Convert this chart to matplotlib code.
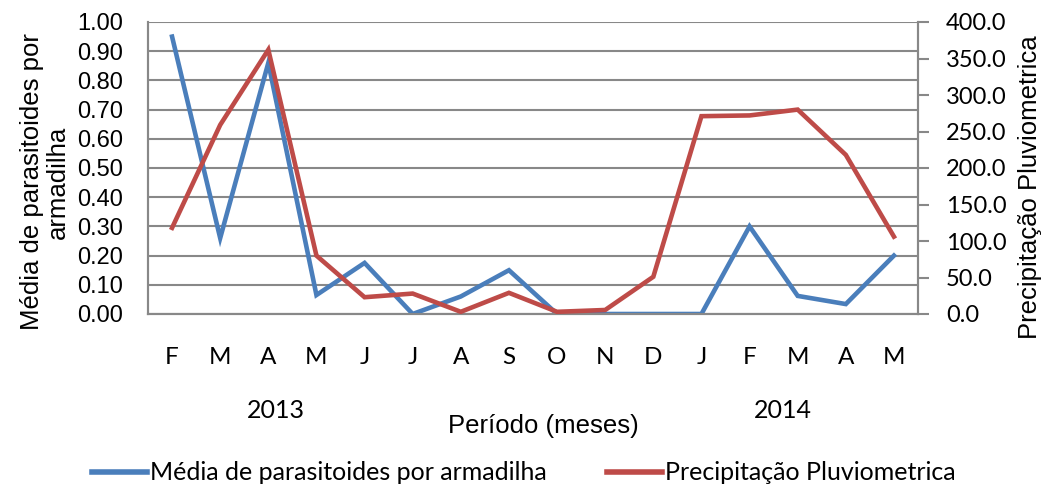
import numpy as np
import matplotlib
matplotlib.use("Agg")
import matplotlib.pyplot as plt
import matplotlib.ticker as mticker
import matplotlib.transforms as mtransforms
from matplotlib.lines import Line2D

# dados mensais (fev/2013 a mai/2014)
meses = ["F", "M", "A", "M", "J", "J", "A", "S", "O", "N", "D", "J", "F", "M", "A", "M"]
anos = ["2013", "2014"]
parasitoides = [0.95, 0.26, 0.86, 0.065, 0.175, 0.0, 0.06, 0.15, 0.0, 0.0, 0.0, 0.0,
                0.30, 0.062, 0.034, 0.20]
precipitacao = [118.0, 259.0, 362.0, 80.0, 23.0, 28.0, 3.0, 29.0, 3.0, 5.5, 51.0, 271.0,
                272.0, 280.0, 218.0, 106.0]

azul = "#4A7EBB"
vermelho = "#BE4B48"
cinza = "#888888"
fonte_cal = ["Lato", "DejaVu Sans"]

plt.rcParams["font.family"] = ["Liberation Sans", "DejaVu Sans"]

fig = plt.figure(figsize=(10.42, 4.88), dpi=100)
ax = fig.add_axes([148 / 1042, 1 - 314 / 488, 770 / 1042, 292 / 488])
ax2 = ax.twinx()

x = np.arange(len(meses))
ax.plot(x, parasitoides, color=azul, linewidth=3.3, solid_joinstyle="miter", zorder=3)
ax2.plot(x, precipitacao, color=vermelho, linewidth=3.3, solid_joinstyle="miter", zorder=3)

# eixo esquerdo
ax.set_xlim(-0.5, len(meses) - 0.5)
ax.set_ylim(0, 1.0)
ax.yaxis.set_major_locator(mticker.MultipleLocator(0.1))
ax.yaxis.set_major_formatter(mticker.FormatStrFormatter("%.2f"))
ax.grid(axis="y", color=cinza, linewidth=1.5)
ax.set_axisbelow(True)
ax.tick_params(axis="y", length=0, pad=18, labelsize=17)
ax.set_xticks(x)
ax.set_xticklabels(meses)
ax.tick_params(axis="x", length=0, pad=24, labelsize=17.5)
for lab in ax.get_xticklabels():
    lab.set_fontfamily(fonte_cal)

# eixo direito
ax2.set_ylim(0, 400)
ax2.yaxis.set_major_locator(mticker.MultipleLocator(50))
ax2.yaxis.set_major_formatter(mticker.FormatStrFormatter("%.1f"))
ax2.tick_params(axis="y", length=8, width=1.5, color=cinza, pad=12, labelsize=17)
for lab in ax2.get_yticklabels():
    lab.set_fontfamily(fonte_cal)

for a in (ax, ax2):
    a.spines["top"].set_visible(False)
    for lado in ("left", "right", "bottom"):
        a.spines[lado].set_color(cinza)
        a.spines[lado].set_linewidth(1.5)

# títulos dos eixos
fig.text(45 / 1042, 1 - 182 / 488, "Média de parasitoides por\narmadilha", rotation=90,
         ha="center", va="center", multialignment="center", fontsize=18.5, linespacing=1.1)
fig.text(1030 / 1042, 1 - 187 / 488, "Precipitação Pluviometrica", rotation=90,
         ha="center", va="center", fontsize=18.5)

# anos e título do eixo x
trans = mtransforms.blended_transform_factory(ax.transData, fig.transFigure)
ax.text(2.15, 1 - 410 / 488, anos[0], transform=trans, ha="center", va="center",
        fontsize=18, family=fonte_cal)
ax.text(12.7, 1 - 410 / 488, anos[1], transform=trans, ha="center", va="center",
        fontsize=18, family=fonte_cal)
fig.text(543 / 1042, 1 - 426 / 488, "Período (meses)", ha="center", va="center", fontsize=18.5)

# legenda
handles = [Line2D([0], [0], color=azul, linewidth=4.0),
           Line2D([0], [0], color=vermelho, linewidth=4.0)]
fig.legend(handles, ["Média de parasitoides por armadilha", "Precipitação Pluviometrica"],
           loc="center", bbox_to_anchor=(524 / 1042, 1 - 473 / 488), ncol=2, frameon=False,
           handlelength=2.2, handletextpad=0.12, columnspacing=2.4,
           prop={"family": fonte_cal, "size": 18})

fig.savefig("out.png", dpi=100)
